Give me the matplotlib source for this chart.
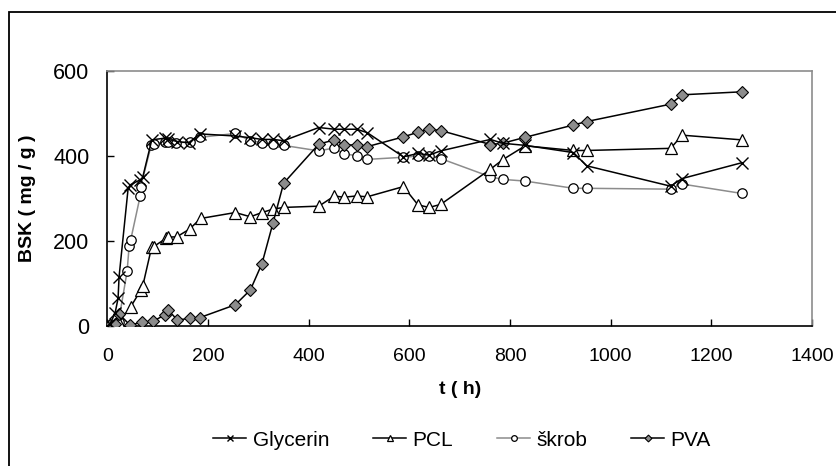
import numpy as np
import matplotlib
matplotlib.use("Agg")
import matplotlib.pyplot as plt
from matplotlib.patches import Rectangle

plt.rcParams["font.family"] = ["Liberation Sans", "DejaVu Sans"]

# ---- data (t in h, BSK in mg/g) ----
t_glycerin = [0, 5, 15, 21, 23, 41, 45, 65, 70, 88, 114, 121, 139, 161, 184, 254, 284, 307, 329,
              350, 420, 451, 469, 495, 516, 588, 617, 639, 662, 761, 785, 830, 926, 952, 1119, 1142, 1260]
v_glycerin = [0, 5, 30, 65, 116, 324, 332, 344, 350, 438, 442, 439, 434, 431, 452, 447, 443, 439, 439,
              436, 467, 463, 463, 463, 455, 398, 406, 402, 412, 439, 430, 425, 408, 377, 329, 347, 384]

t_pcl = [0, 5, 22, 46, 66, 70, 88, 92, 116, 121, 138, 163, 185, 254, 284, 307, 329, 350, 420, 451,
         469, 495, 516, 588, 617, 639, 662, 761, 785, 830, 926, 952, 1119, 1142, 1260]
v_pcl = [0, 2, 8, 45, 84, 94, 187, 187, 206, 209, 210, 228, 253, 267, 257, 267, 275, 279, 282, 306,
         303, 306, 304, 328, 285, 279, 286, 369, 391, 424, 413, 413, 418, 449, 438]

t_skrob = [0, 5, 22, 39, 43, 46, 65, 66, 87, 92, 114, 121, 136, 163, 184, 254, 284, 307, 329, 350,
           420, 451, 469, 495, 516, 588, 617, 639, 662, 761, 785, 830, 926, 952, 1119, 1142, 1260]
v_skrob = [0, 2, 10, 129, 188, 202, 306, 328, 426, 428, 434, 432, 430, 434, 444, 453, 436, 431, 428, 425,
           412, 419, 405, 401, 392, 397, 400, 400, 394, 351, 345, 341, 324, 324, 322, 334, 312]

t_pva = [0, 5, 15, 23, 45, 68, 90, 114, 121, 139, 163, 184, 254, 284, 307, 329, 350, 420, 451, 469,
         495, 516, 588, 617, 639, 662, 761, 785, 830, 926, 952, 1119, 1142, 1260]
v_pva = [0, 2, 5, 28, 2, 9, 11, 26, 37, 14, 18, 20, 50, 85, 147, 243, 336, 428, 438, 426,
         426, 422, 445, 456, 463, 460, 427, 430, 444, 473, 481, 522, 544, 551]

x_ticks = [0, 200, 400, 600, 800, 1000, 1200, 1400]
y_ticks = [0, 200, 400, 600]

fig = plt.figure(figsize=(8.36, 4.66), dpi=100)
ax = fig.add_axes([107.5 / 836, 140 / 466, 704.5 / 836, 255 / 466])

lw = 1.1
ax.plot(t_skrob, v_skrob, color="#8c8c8c", lw=lw, marker="o", ms=6.8, mfc="white",
        mec="black", mew=0.9, label="škrob", zorder=2)
ax.plot(t_pcl, v_pcl, color="black", lw=lw, marker="^", ms=8, mfc="white",
        mec="black", mew=0.9, label="PCL", zorder=3)
ax.plot(t_pva, v_pva, color="black", lw=lw, marker="D", ms=5.8, mfc="#8c8c8c",
        mec="black", mew=0.8, label="PVA", zorder=4)
ax.plot(t_glycerin, v_glycerin, color="black", lw=lw, marker="x", ms=8,
        mec="black", mew=1.0, label="Glycerin", zorder=5)

ax.set_xlim(0, 1400)
ax.set_ylim(0, 600)
ax.set_xticks(x_ticks)
ax.set_yticks(y_ticks)
ax.tick_params(axis="x", direction="in", length=5, width=1, pad=16, labelsize=14)
ax.tick_params(axis="y", direction="in", length=5, width=1, pad=13, labelsize=15.5)

for side in ["top", "right"]:
    ax.spines[side].set_color("#8c8c8c")
for side in ["left", "bottom"]:
    ax.spines[side].set_color("black")
for sp in ax.spines.values():
    sp.set_linewidth(1.2)

ax.set_xlabel("t ( h)", fontsize=14, fontweight="bold", labelpad=11)
fig.text(28 / 836, 1 - 198 / 466, "BSK ( mg / g )", rotation=90, fontsize=14,
         fontweight="bold", ha="center", va="center")

# legend in the order of the original
handles, labels = ax.get_legend_handles_labels()
order = ["Glycerin", "PCL", "škrob", "PVA"]
hmap = dict(zip(labels, handles))
fig.legend([hmap[k] for k in order], order, loc="center", ncol=4, frameon=False,
           bbox_to_anchor=(462 / 836, 1 - 440 / 466), fontsize=15, markerscale=0.6,
           handlelength=1.6, handletextpad=0.3, columnspacing=2.1)

# outer chart border (only top/left visible in the crop)
fig.patches.append(Rectangle((9 / 836, -0.2), 1.2, 1 - 12 / 466 + 0.2, transform=fig.transFigure,
                             fill=False, edgecolor="black", lw=1.3))

fig.savefig("out.png", dpi=100)
plt.close(fig)
